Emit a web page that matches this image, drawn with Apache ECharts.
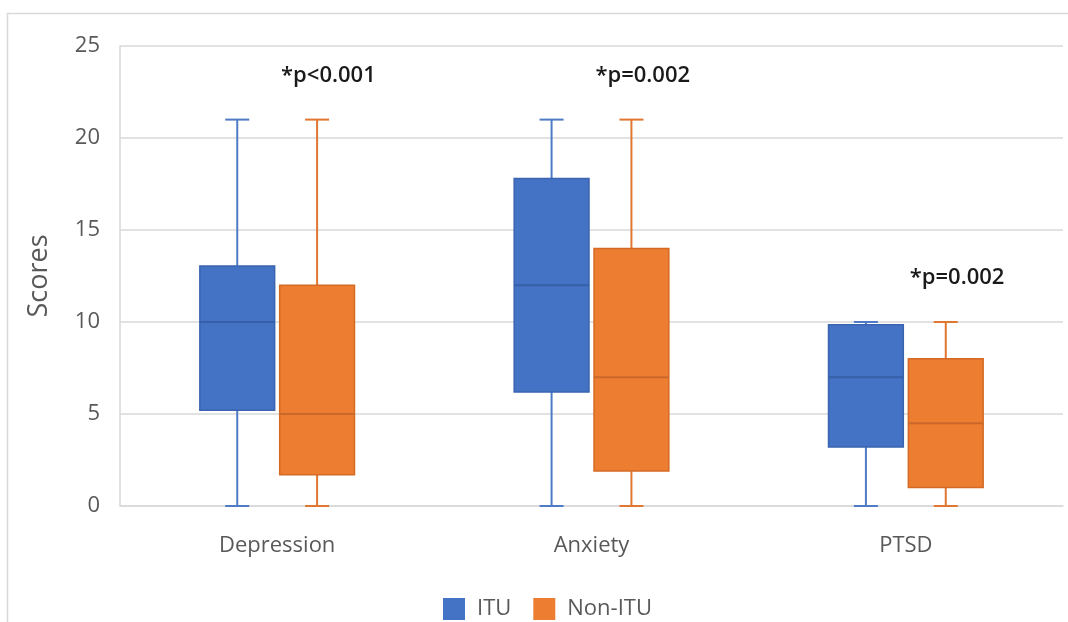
<!DOCTYPE html>
<html>
<head>
<meta charset="utf-8">
<script src="https://cdn.jsdelivr.net/npm/echarts@6/dist/echarts.min.js"></script>
<style>
html,body{margin:0;padding:0;background:#fff;}
#chart{width:1068px;height:622px;}
</style>
</head>
<body>
<div id="chart"></div>
<script>
// ---- data ----
const categories = ['Depression', 'Anxiety', 'PTSD'];
const seriesNames = ['ITU', 'Non-ITU'];
// [min, Q1, median, Q3, max]
const ituStats = [
  [0, 5.2, 10, 13.05, 21],
  [0, 6.2, 12, 17.8, 21],
  [0, 3.2, 7, 9.85, 10]
];
const nonItuStats = [
  [0, 1.7, 5, 12, 21],
  [0, 1.9, 7, 14, 21],
  [0, 1.0, 4.5, 8, 10]
];
const annotations = [
  { cat: 0, y: 23.4, text: '*p<0.001' },
  { cat: 1, y: 23.4, text: '*p=0.002' },
  { cat: 2, y: 12.4, text: '*p=0.002' }
];
const yTicks = { min: 0, max: 25, interval: 5 };

const colors = [
  { fill: '#4472C4', border: '#3A64B0', median: '#3560A8', whisker: '#4F7AC6' },
  { fill: '#ED7D31', border: '#D46A24', median: '#C9682A', whisker: '#E07630' }
];

function boxRender(sIdx) {
  return function (params, api) {
    const c = api.value(0);
    const vals = [1, 2, 3, 4, 5].map(i => api.coord([c, api.value(i)])[1]);
    const center = api.coord([c, 0])[0];
    const bw = api.size([1, 0])[0];
    const off = bw * 0.127;
    const boxW = bw * 0.238;
    const capW = 24;
    const cx = center + (sIdx === 0 ? -off : off);
    const [yMin, yQ1, yMed, yQ3, yMax] = vals;
    const col = colors[sIdx];
    const lineStyle = { stroke: col.whisker, lineWidth: 2 };
    return {
      type: 'group',
      children: [
        { type: 'line', shape: { x1: cx, y1: yQ3, x2: cx, y2: yMax }, style: lineStyle },
        { type: 'line', shape: { x1: cx, y1: yQ1, x2: cx, y2: yMin }, style: lineStyle },
        { type: 'line', shape: { x1: cx - capW / 2, y1: yMax, x2: cx + capW / 2, y2: yMax }, style: lineStyle },
        { type: 'line', shape: { x1: cx - capW / 2, y1: yMin, x2: cx + capW / 2, y2: yMin }, style: lineStyle },
        { type: 'rect', shape: { x: cx - boxW / 2, y: yQ3, width: boxW, height: yQ1 - yQ3 },
          style: { fill: col.fill, stroke: col.border, lineWidth: 1.5 } },
        { type: 'line', shape: { x1: cx - boxW / 2, y1: yMed, x2: cx + boxW / 2, y2: yMed },
          style: { stroke: col.median, lineWidth: 2 } }
      ]
    };
  };
}

function toData(stats) {
  return stats.map((s, i) => [i].concat(s));
}

const chart = echarts.init(document.getElementById('chart'), null, { renderer: 'canvas' });
const fontFam = '"Open Sans", Lato, sans-serif';

const option = {
  animation: false,
  backgroundColor: '#fff',
  graphic: [
    { type: 'rect', shape: { x: 7.5, y: 13.5, width: 1100, height: 700 },
      style: { fill: 'none', stroke: '#D9D9D9', lineWidth: 1.5 }, silent: true, z: -10 }
  ],
  grid: { left: 120, right: 5, top: 46, bottom: 116, containLabel: false },
  legend: {
    top: 593,
    left: 438,
    itemWidth: 22,
    itemHeight: 22,
    itemGap: 22,
    icon: 'rect',
    textStyle: { fontSize: 22, color: '#595959', fontFamily: fontFam, padding: [0, 0, 0, 7] },
    data: seriesNames
  },
  xAxis: {
    type: 'category',
    data: categories,
    axisLine: { show: true, lineStyle: { color: '#D9D9D9', width: 1.5 } },
    axisTick: { show: false },
    axisLabel: { fontSize: 22, color: '#595959', fontFamily: fontFam, margin: 29 }
  },
  yAxis: {
    type: 'value',
    min: yTicks.min,
    max: yTicks.max,
    interval: yTicks.interval,
    name: 'Scores',
    nameLocation: 'middle',
    nameGap: 67,
    nameTextStyle: { fontSize: 27, color: '#595959', fontFamily: fontFam },
    axisLine: { show: true, lineStyle: { color: '#D9D9D9', width: 1.5 } },
    axisTick: { show: false },
    splitLine: { lineStyle: { color: '#D9D9D9', width: 1.5 } },
    axisLabel: { fontSize: 22, color: '#595959', fontFamily: fontFam, margin: 20 }
  },
  series: [
    {
      name: seriesNames[0], type: 'custom', renderItem: boxRender(0),
      itemStyle: { color: colors[0].fill },
      encode: { x: 0, y: [1, 2, 3, 4, 5] },
      data: toData(ituStats)
    },
    {
      name: seriesNames[1], type: 'custom', renderItem: boxRender(1),
      itemStyle: { color: colors[1].fill },
      encode: { x: 0, y: [1, 2, 3, 4, 5] },
      data: toData(nonItuStats)
    },
    {
      name: 'annotations', type: 'custom',
      renderItem: function (params, api) {
        const p = api.coord([api.value(0), api.value(1)]);
        const bw = api.size([1, 0])[0];
        return {
          type: 'text',
          style: {
            x: p[0] + bw * 0.163, y: p[1],
            text: annotations[params.dataIndex].text,
            fill: '#1a1a1a', fontSize: 22, fontWeight: 600, fontFamily: fontFam,
            align: 'center', verticalAlign: 'middle'
          }
        };
      },
      encode: { x: 0, y: 1 },
      data: annotations.map(a => [a.cat, a.y]),
      z: 10
    }
  ]
};
chart.setOption(option);
</script>
</body>
</html>
